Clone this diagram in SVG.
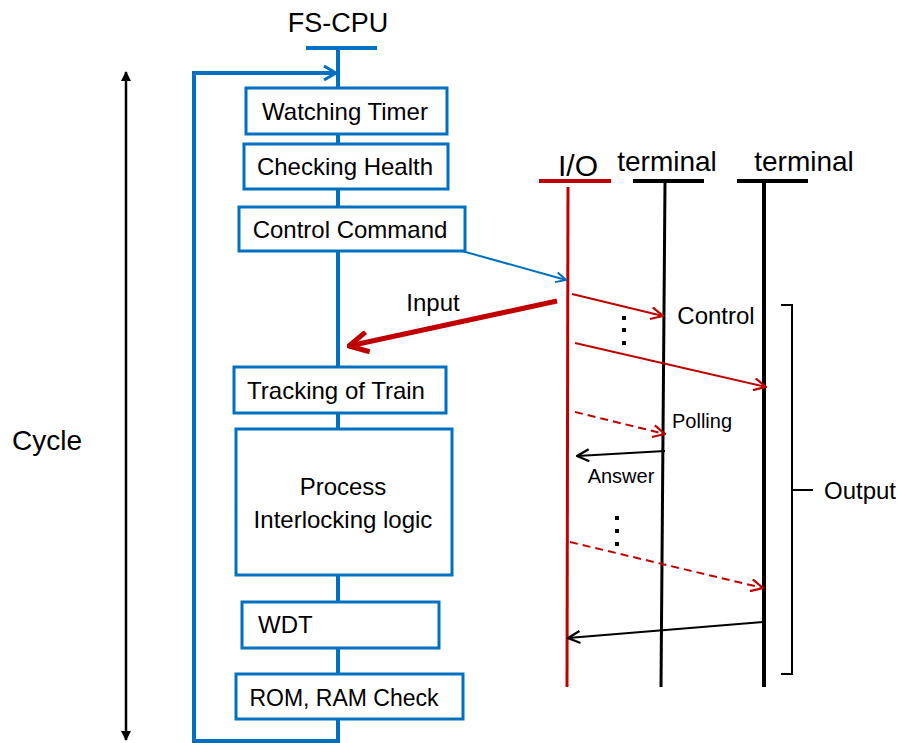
<svg xmlns="http://www.w3.org/2000/svg" width="902" height="743" viewBox="0 0 902 743">
  <defs>
    <marker id="openBlue" viewBox="0 0 12 12" refX="11" refY="6" markerWidth="12" markerHeight="12" markerUnits="userSpaceOnUse" orient="auto">
      <path d="M1,1 L11,6 L1,11" fill="none" stroke="#0070C0" stroke-width="2"/>
    </marker>
    <marker id="openBlueBig" viewBox="0 0 16 16" refX="14" refY="8" markerWidth="16" markerHeight="16" markerUnits="userSpaceOnUse" orient="auto">
      <path d="M2,1 L14,8 L2,15" fill="none" stroke="#0070C0" stroke-width="3"/>
    </marker>
    <marker id="openRed" viewBox="0 0 14 14" refX="13" refY="7" markerWidth="14" markerHeight="14" markerUnits="userSpaceOnUse" orient="auto">
      <path d="M1,1 L13,7 L1,13" fill="none" stroke="#C00000" stroke-width="2.2"/>
    </marker>
    <marker id="openRedBig" viewBox="0 0 24 24" refX="22" refY="12" markerWidth="24" markerHeight="24" markerUnits="userSpaceOnUse" orient="auto">
      <path d="M3,2 L22,12 L3,22" fill="none" stroke="#C00000" stroke-width="5"/>
    </marker>
    <marker id="openBlack" viewBox="0 0 14 14" refX="13" refY="7" markerWidth="14" markerHeight="14" markerUnits="userSpaceOnUse" orient="auto">
      <path d="M1,1 L13,7 L1,13" fill="none" stroke="#000" stroke-width="2.2"/>
    </marker>
    <marker id="solidBlack" viewBox="0 0 10 10" refX="9" refY="5" markerWidth="10" markerHeight="10" markerUnits="userSpaceOnUse" orient="auto-start-reverse">
      <path d="M0,0 L10,5 L0,10 z" fill="#000"/>
    </marker>
  </defs>
  <style>
    text { font-family: "Liberation Sans", Arial, sans-serif; fill: #000; }
    .box { fill: #fff; stroke: #0070C0; stroke-width: 3; }
    .lbl { font-size: 24px; text-anchor: middle; }
    .blue { stroke: #0070C0; fill: none; }
    .red { stroke: #C00000; fill: none; }
    .blk { stroke: #000; fill: none; }
  </style>
  <rect width="902" height="743" fill="#fff"/>

  <!-- CPU lifeline and loop-back -->
  <g id="cpu-lifeline">
    <text x="338" y="32" font-size="27" text-anchor="middle">FS-CPU</text>
    <line class="blue" x1="306" y1="48" x2="377" y2="48" stroke-width="4"/>
    <line class="blue" x1="338" y1="48" x2="338" y2="743" stroke-width="4"/>
    <polyline class="blue" points="338,741 194,741 194,73 336,73" stroke-width="4" marker-end="url(#openBlueBig)"/>
  </g>

  <!-- Cycle span -->
  <g id="cycle">
    <line class="blk" x1="126" y1="72" x2="126" y2="740" stroke-width="2.5" marker-start="url(#solidBlack)" marker-end="url(#solidBlack)"/>
    <text x="47" y="450" font-size="28" text-anchor="middle">Cycle</text>
  </g>

  <!-- Processing steps -->
  <g id="watching-timer">
    <rect class="box" x="246" y="88" width="201" height="46"/>
    <text class="lbl" x="345" y="120">Watching Timer</text>
  </g>
  <g id="checking-health">
    <rect class="box" x="244" y="144" width="204" height="45"/>
    <text class="lbl" x="345" y="175">Checking Health</text>
  </g>
  <g id="control-command">
    <rect class="box" x="239" y="207" width="226" height="44"/>
    <text class="lbl" x="350" y="238">Control Command</text>
  </g>
  <g id="tracking-of-train">
    <rect class="box" x="234" y="367" width="212" height="46"/>
    <text class="lbl" x="336" y="399">Tracking of Train</text>
  </g>
  <g id="process-interlocking">
    <rect class="box" x="236" y="429" width="216" height="146"/>
    <text class="lbl" x="343" y="495">Process</text>
    <text class="lbl" x="343" y="528">Interlocking logic</text>
  </g>
  <g id="wdt">
    <rect class="box" x="242" y="602" width="197" height="46"/>
    <text x="258" y="633" font-size="24">WDT</text>
  </g>
  <g id="rom-ram-check">
    <rect class="box" x="236" y="674" width="227" height="45"/>
    <text x="344" y="706" font-size="23" text-anchor="middle">ROM, RAM Check</text>
  </g>

  <!-- I/O and terminal lifelines -->
  <g id="io">
    <text x="578" y="176" font-size="30" text-anchor="middle">I/O</text>
    <line class="red" x1="539" y1="181" x2="611" y2="181" stroke-width="4"/>
    <line class="red" x1="568" y1="187" x2="567" y2="687" stroke-width="3"/>
  </g>
  <g id="terminal-1">
    <text x="667" y="171" font-size="28" text-anchor="middle">terminal</text>
    <line class="blk" x1="633" y1="181" x2="704" y2="181" stroke-width="4"/>
    <line class="blk" x1="665" y1="183" x2="661" y2="687" stroke-width="3"/>
  </g>
  <g id="terminal-2">
    <text x="804" y="171" font-size="28" text-anchor="middle">terminal</text>
    <line class="blk" x1="737" y1="181" x2="808" y2="181" stroke-width="4"/>
    <line class="blk" x1="764" y1="183" x2="764" y2="687" stroke-width="4"/>
  </g>

  <!-- Messages -->
  <g id="connectors">
    <line class="blue" x1="462" y1="251" x2="566" y2="280" stroke-width="2" marker-end="url(#openBlue)"/>
    <line class="red" x1="557" y1="301" x2="349" y2="346" stroke-width="5" marker-end="url(#openRedBig)"/>
    <line class="red" x1="572" y1="294" x2="663" y2="316" stroke-width="2" marker-end="url(#openRed)"/>
    <line class="red" x1="575" y1="343" x2="766" y2="387" stroke-width="2" marker-end="url(#openRed)"/>
    <line class="red" x1="575" y1="412" x2="665" y2="434" stroke-width="2" stroke-dasharray="8,5" marker-end="url(#openRed)"/>
    <line class="blk" x1="665" y1="451" x2="577" y2="456" stroke-width="2" marker-end="url(#openBlack)"/>
    <line class="red" x1="570" y1="542" x2="763" y2="588" stroke-width="2" stroke-dasharray="8,5" marker-end="url(#openRed)"/>
    <line class="blk" x1="763" y1="622" x2="568" y2="638" stroke-width="2" marker-end="url(#openBlack)"/>
  </g>

  <!-- Message labels and ellipses -->
  <g id="message-labels">
    <text x="433" y="311" font-size="24" text-anchor="middle">Input</text>
    <text x="716" y="324" font-size="24" text-anchor="middle">Control</text>
    <text x="702" y="428" font-size="20" text-anchor="middle">Polling</text>
    <text x="621" y="483" font-size="20" text-anchor="middle">Answer</text>
    <g fill="#000">
      <rect x="622" y="316" width="4" height="4"/>
      <rect x="622" y="328" width="4" height="4"/>
      <rect x="622" y="341" width="4" height="4"/>
      <rect x="615" y="516" width="4" height="4"/>
      <rect x="615" y="529" width="4" height="4"/>
      <rect x="615" y="542" width="4" height="4"/>
    </g>
  </g>

  <!-- Output bracket -->
  <g id="output">
    <path class="blk" d="M781,305 L792,305 L792,674 L781,674 M792,490 L813,490" stroke-width="2"/>
    <text x="860" y="499" font-size="24" text-anchor="middle">Output</text>
  </g>
</svg>
